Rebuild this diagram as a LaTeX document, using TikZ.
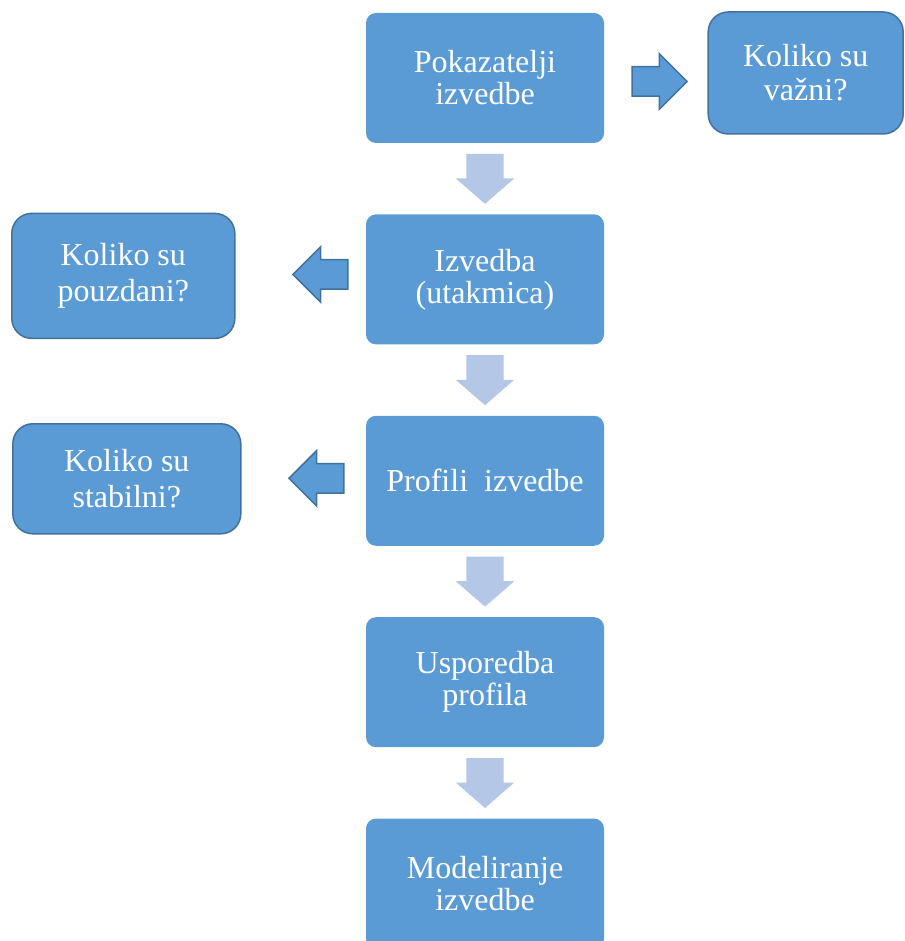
\documentclass[tikz,border=0pt]{standalone}
\usepackage{fontspec}
\setmainfont{Liberation Serif}
\usepackage{xcolor}
\usepackage{tikz}
\usetikzlibrary{shapes.arrows, positioning, calc}
\definecolor{boxblue}{HTML}{5B9BD5}
\definecolor{boxline}{HTML}{41719C}
\definecolor{lightblue}{HTML}{B4C7E7}
\tikzstyle{stepbox} = [rectangle, rounded corners=10pt, minimum width=238pt, minimum height=130pt, text centered, align=center, fill=boxblue, text=white, font=\rmfamily\fontsize{32}{32}\selectfont]
\tikzstyle{questbox} = [rectangle, rounded corners=20pt, text centered, align=center, draw=boxline, line width=1.5pt, fill=boxblue, text=white, font=\rmfamily\fontsize{32}{36}\selectfont]
\tikzstyle{downarrow} = [single arrow, shape border rotate=270, inner xsep=18.5pt, inner ysep=0pt, minimum height=50pt, single arrow head extend=10.5pt, single arrow tip angle=98, fill=lightblue]
\tikzstyle{sidearrow} = [single arrow, inner xsep=0pt, inner ysep=14pt, minimum height=55pt, single arrow head extend=13pt, single arrow tip angle=90, fill=boxblue, draw=boxline, line width=1.5pt]

\begin{document}
\begin{tikzpicture}[x=1pt, y=1pt, node distance=71pt]
\useasboundingbox (0,0) rectangle (904,941);
\node (step1) [stepbox] at (485,863) {Pokazatelji\\izvedbe};
\node (step2) [stepbox, below=of step1] {Izvedba\\(utakmica)};
\node (step3) [stepbox, below=of step2] {Profili~~izvedbe};
\node (step4) [stepbox, below=of step3] {Usporedba\\profila};
\node (step5) [stepbox, below=of step4] {Modeliranje\\izvedbe};

\node (down1) [downarrow] at ($(step1)!0.5!(step2)+(0,8)$) {};
\node (down2) [downarrow] at ($(step2)!0.5!(step3)+(0,8)$) {};
\node (down3) [downarrow] at ($(step3)!0.5!(step4)+(0,8)$) {};
\node (down4) [downarrow] at ($(step4)!0.5!(step5)+(0,8)$) {};

\node (arrow1) [sidearrow] at ([xshift=48pt, yshift=-3.5pt]step1.east) {};
\node (quest1) [questbox, minimum width=195pt, minimum height=122pt] at ([xshift=201.5pt, yshift=5pt]step1.east) {Koliko su\\[-2pt]važni?};
\node (arrow2) [sidearrow, shape border rotate=180] at ([xshift=-38pt, yshift=5pt]step2.west) {};
\node (quest2) [questbox, minimum width=223pt, minimum height=125pt] at ([xshift=-242.5pt, yshift=3.5pt]step2.west) {Koliko su\\pouzdani?};
\node (arrow3) [sidearrow, shape border rotate=180] at ([xshift=-42pt, yshift=2.5pt]step3.west) {};
\node (quest3) [questbox, minimum width=228pt, minimum height=110pt] at ([xshift=-239pt, yshift=2pt]step3.west) {Koliko su\\stabilni?};
\end{tikzpicture}
\end{document}
